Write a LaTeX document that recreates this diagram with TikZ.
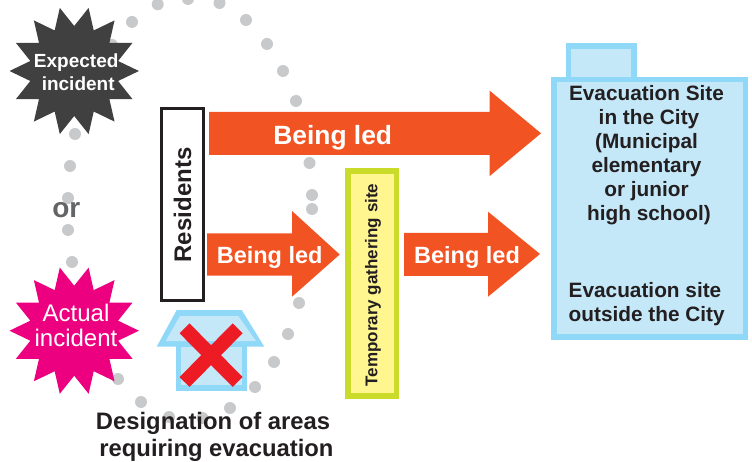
\documentclass[tikz,border=0pt]{standalone}
\usepackage{fontspec}
\setmainfont{Liberation Sans}
\definecolor{orangeA}{HTML}{F15323}
\definecolor{skyB}{HTML}{8FD8F8}
\definecolor{skyF}{HTML}{C5E8F9}
\definecolor{limeB}{HTML}{CBDB2A}
\definecolor{limeF}{HTML}{FFF68F}
\definecolor{dotG}{HTML}{C8C9CB}
\definecolor{darkS}{HTML}{404040}
\definecolor{pinkS}{HTML}{EC0080}
\definecolor{inkT}{HTML}{231F20}
\definecolor{orG}{HTML}{636466}
\definecolor{redX}{HTML}{ED1C24}
\newcommand{\fs}[2]{\fontsize{#1}{#2}\selectfont}
\newcommand{\burst}[3]{\fill[#3] plot[samples at={0,...,27},variable=\k] ({#1+(mod(\k,2)==0?64.7:45)*cos(\k*180/14)},{#2+(mod(\k,2)==0?64.7:45)*sin(\k*180/14)}) -- cycle;}
\tikzset{
  lab/.style={inner sep=0pt,outer sep=0pt,align=center},
  pt/.style={fill=dotG,circle,minimum size=12pt,inner sep=0pt,draw=none},
  arrowbody/.style={fill=orangeA,draw=none},
  ledtext/.style={lab,text=white,font=\bfseries\fs{23.5}{26}},
  sitetext/.style={lab,text=inkT,font=\bfseries\fs{20.8}{24}},
  skybox/.style={draw=skyB,fill=skyF,line width=5.5pt,inner sep=0pt,outer sep=0pt},
}
\begin{document}
\begin{tikzpicture}[x=1pt,y=-1pt]
\useasboundingbox (0,0) rectangle (752,462);
\fill[white] (0,0) rectangle (752,462);
% dotted loop
\foreach \n/\a/\b in {a/157.7/4.3,b/188/-1,c/219.5/3,d/246/20,e/267/44,f/283/71,g/296/101,h/309.5/163,i/312/195,j/312/209,k/132/22,l/112/45,m/75/134,n/70/166,o/68/198,p/68/230,q/72/262,r/118/379,s/141/402,t/169/417,u/202.5/418,v/230/408,w/255/387,x/274/362,y/288/334,z/299/303}
  \node[pt] (dot\n) at (\a,\b) {};
% stars
\burst{74.2}{71}{darkS}
\burst{74.2}{330.7}{pinkS}
\node[lab,text=white,font=\bfseries\fs{19}{23.3}] (expected) at (76.2,72.5) {Expected\\\hspace*{4pt}incident};
\node[lab,text=white,font=\fs{24}{25}] (actual) at (76,325) {Actual\\incident};
\node[lab,text=orG,font=\bfseries\fs{28}{30}] (or) at (66.3,210.5) {or};
% residents
\node[draw=inkT,fill=white,line width=2.6pt,inner sep=0pt,minimum width=42.1pt,minimum height=192.1pt] (residents) at (182.35,204.35) {};
\node[lab,rotate=90,text=inkT,font=\bfseries\fs{24}{26}] (residentsT) at (182.5,205) {Residents};
% arrows
\fill[arrowbody] (209,112) -- (489.7,112) -- (489.7,90.7) -- (541,133.3) -- (489.7,176) -- (489.7,155) -- (209,155) -- cycle;
\fill[arrowbody] (207,233.3) -- (292,233.3) -- (292,211) -- (339.7,254.5) -- (292,296.7) -- (292,275.7) -- (207,275.7) -- cycle;
\fill[arrowbody] (404,233) -- (488,233) -- (488,211.7) -- (540,254) -- (488,296.7) -- (488,276) -- (404,276) -- cycle;
\node[ledtext,font=\bfseries\fs{26.4}{28}] (led1) at (332.7,137.5) {Being led};
\node[ledtext] (led2) at (269.7,257) {Being led};
\node[ledtext] (led3) at (467,257) {Being led};
% yellow site
\node[draw=limeB,fill=limeF,line width=5.5pt,inner sep=0pt,minimum width=48.5pt,minimum height=225.2pt] (gather) at (372,283.6) {};
\node[lab,rotate=90,text=inkT,font=\bfseries\fs{17}{19}] (gatherT) at (373,285) {Temporary gathering site};
% city site
\node[skybox,minimum width=65.2pt,minimum height=40pt] (tab) at (601.3,66) {};
\node[skybox,minimum width=191.5pt,minimum height=257.2pt] (city) at (649.5,208.3) {};
\node[sitetext] (cityT) at (646.5,155) {Evacuation Site\\\hspace*{5pt}in the City\\(Municipal\\elementary\\or junior\\\hspace*{5pt}high school)};
\node[sitetext,align=left,anchor=west] (outT) at (568.7,304.5) {Evacuation site\\outside the City};
% house
\node[draw=none,fill=skyB,inner sep=0pt,minimum width=71.6pt,minimum height=46pt] (housebase) at (211.5,367.7) {};
\fill[skyF] (181,347) rectangle (241.7,385);
\fill[skyB] (176.7,310) -- (241.7,310) -- (264.3,346.7) -- (156.7,346.7) -- cycle;
\fill[skyF] (180,316) -- (238.3,316) -- (256,341) -- (165.7,341) -- cycle;
\draw[redX,line width=14pt] (184.5,328.3) -- (237.7,382);
\draw[redX,line width=14pt] (184.5,382) -- (237.7,328.3);
\node[lab,text=inkT,font=\bfseries\fs{23.8}{26.3}] (desig) at (213,437) {Designation of areas\\\hspace*{7pt}requiring evacuation};
\end{tikzpicture}
\end{document}
